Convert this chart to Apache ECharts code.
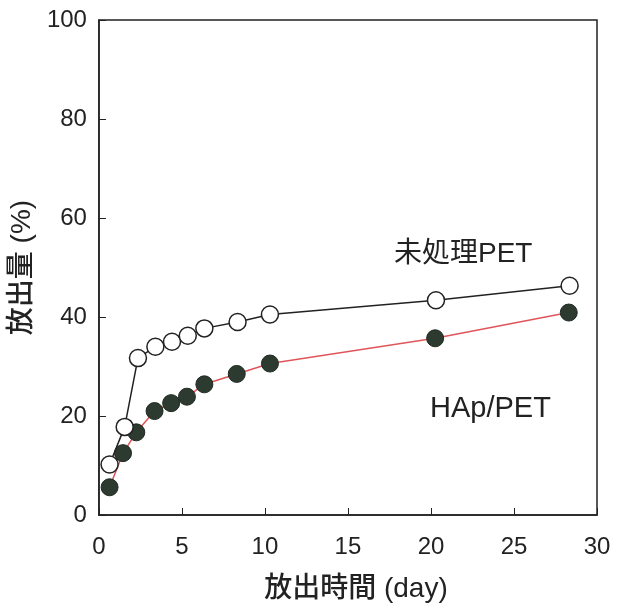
<!DOCTYPE html>
<html>
<head>
<meta charset="utf-8">
<script src="https://cdn.jsdelivr.net/npm/echarts@6/dist/echarts.min.js"></script>
<style>
  html, body { margin: 0; padding: 0; background: #fff; }
  #chart { width: 618px; height: 613px; }
</style>
</head>
<body>
<div id="chart"></div>
<script>
// 放出時間 (day)
const untreatedDays = [0.64, 1.55, 2.35, 3.4, 4.4, 5.35, 6.35, 8.35, 10.3, 20.3, 28.35]
const untreatedRelease = [10.2, 17.8, 31.7, 34.0, 35.0, 36.2, 37.7, 39.0, 40.5, 43.4, 46.3]

const hapDays = [0.64, 1.45, 2.25, 3.35, 4.35, 5.3, 6.35, 8.3, 10.3, 20.25, 28.3]
const hapRelease = [5.6, 12.5, 16.7, 21.0, 22.6, 23.9, 26.4, 28.5, 30.6, 35.7, 40.9]

const xTicks = [0, 5, 10, 15, 20, 25, 30]
const yTicks = [0, 20, 40, 60, 80, 100]

const pairs = (xs, ys) => xs.map((x, i) => [x, ys[i]])

const latin = 'Liberation Sans, Arial, sans-serif'
// latin glyphs from Liberation Sans, kanji fall back to Noto CJK
const mixed = '"Liberation Sans", "Noto Sans CJK JP", sans-serif'

const chart = echarts.init(document.getElementById('chart'))
chart.setOption({
  animation: false,
  grid: {
    left: 97,
    right: 21,
    top: 20,
    bottom: 98,
    show: true,
    borderColor: '#222',
    borderWidth: 1.5
  },
  xAxis: {
    type: 'value',
    min: xTicks[0],
    max: xTicks[xTicks.length - 1],
    interval: 5,
    name: '放出時間 (day)',
    nameLocation: 'middle',
    nameGap: 60,
    nameTextStyle: { fontFamily: mixed, fontSize: 28, color: '#222', fontWeight: 500, padding: [0, 0, 0, 16] },
    axisLine: { lineStyle: { color: '#222', width: 1.5 } },
    axisTick: { inside: true, length: 7, lineStyle: { color: '#222' } },
    axisLabel: { fontFamily: latin, fontSize: 24, color: '#222', margin: 20 },
    splitLine: { show: false }
  },
  yAxis: {
    type: 'value',
    min: yTicks[0],
    max: yTicks[yTicks.length - 1],
    interval: 20,
    name: '放出量 (%)',
    nameLocation: 'middle',
    nameGap: 54,
    nameTextStyle: { fontFamily: mixed, fontSize: 28, color: '#222', fontWeight: 500 },
    axisLine: { lineStyle: { color: '#222', width: 1.5 } },
    axisTick: { inside: true, length: 7, lineStyle: { color: '#222' } },
    axisLabel: { fontFamily: latin, fontSize: 24, color: '#222', margin: 12 },
    splitLine: { show: false }
  },
  series: [
    {
      name: 'HAp/PET',
      type: 'line',
      data: pairs(hapDays, hapRelease),
      symbol: 'circle',
      symbolSize: 17,
      lineStyle: { color: '#e0555a', width: 1.5 },
      itemStyle: { color: '#2c3a30', borderColor: '#1e2a22', borderWidth: 1 },
      z: 2
    },
    {
      name: '未処理PET',
      type: 'line',
      data: pairs(untreatedDays, untreatedRelease),
      symbol: 'circle',
      symbolSize: 17,
      lineStyle: { color: '#222', width: 1.5 },
      itemStyle: { color: '#fff', borderColor: '#222', borderWidth: 1.5 },
      z: 3
    }
  ],
  graphic: [
    {
      type: 'text',
      left: 394,
      top: 240,
      style: { text: '未処理PET', font: '28px "Liberation Sans", "Noto Sans CJK JP", sans-serif', fill: '#222' }
    },
    {
      type: 'text',
      left: 430,
      top: 394,
      style: { text: 'HAp/PET', font: '29px "Liberation Sans", Arial, sans-serif', fill: '#222' }
    }
  ]
})
</script>
</body>
</html>
